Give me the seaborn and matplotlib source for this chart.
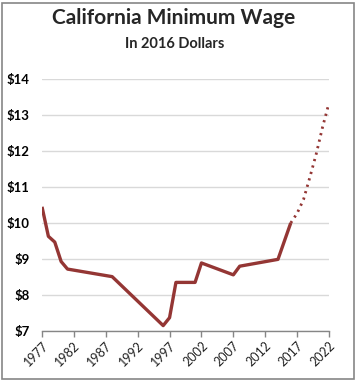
import matplotlib
matplotlib.use("Agg")
import matplotlib.pyplot as plt
import seaborn as sns
import pandas as pd
from matplotlib.patches import Rectangle

# Data
actual_years = [1977, 1978, 1979, 1980, 1981, 1988, 1996, 1997, 1998, 2001, 2002, 2007, 2008, 2014, 2016]
actual_wage = [10.45, 9.63, 9.47, 8.93, 8.72, 8.51, 7.15, 7.37, 8.35, 8.35, 8.89, 8.56, 8.80, 8.99, 10.00]
proj_years = [2016, 2017, 2018, 2019, 2020, 2021, 2022]
proj_wage = [10.00, 10.27, 10.65, 11.27, 11.92, 12.67, 13.33]
x_ticks = [1977, 1982, 1987, 1992, 1997, 2002, 2007, 2012, 2017, 2022]
y_ticks = [7, 8, 9, 10, 11, 12, 13, 14]

sns.set_style("white")
plt.rcParams['font.family'] = ['Lato', 'DejaVu Sans']

df_a = pd.DataFrame({"year": actual_years, "wage": actual_wage})
df_p = pd.DataFrame({"year": proj_years, "wage": proj_wage})

fig = plt.figure(figsize=(3.57, 3.81), dpi=100)
ax = fig.add_axes([42/357, 1-331/381, (329-42)/357, (331-79)/381])

color = "#943634"
sns.lineplot(data=df_a, x="year", y="wage", ax=ax, color=color, lw=2.4, solid_capstyle="butt")
sns.lineplot(data=df_p, x="year", y="wage", ax=ax, color=color, lw=2.0, linestyle=(0, (0.8, 1.6)), dash_capstyle="butt")

ax.set_xlim(1977, 2022)
ax.set_ylim(7, 14)
ax.set_xticks(x_ticks)
ax.set_xticklabels([str(t) for t in x_ticks], rotation=45, ha="right", rotation_mode="anchor", fontsize=9, color="#222222")
ax.set_yticks(y_ticks)
ax.set_yticklabels([f"${t}" for t in y_ticks], fontsize=9.5, fontweight="bold", color="black")
ax.set_xlabel("")
ax.set_ylabel("")
ax.grid(axis="y", color="#d9d9d9", lw=1)
ax.grid(axis="x", visible=False)
for s in ["top", "right", "left"]:
    ax.spines[s].set_visible(False)
ax.spines["bottom"].set_color("#868686")
ax.spines["bottom"].set_linewidth(1)
ax.tick_params(axis="x", bottom=True, length=4, width=1, color="#868686", pad=2)
ax.tick_params(axis="y", left=False, length=0, pad=9)

fig.text(174/357, 1-18.5/381, "California Minimum Wage", ha="center", va="center", fontsize=15, fontweight="bold")
fig.text(174.5/357, 1-44/381, "In 2016 Dollars", ha="center", va="center", fontsize=10.5, fontweight="bold")

fig.patches.append(Rectangle((2/357, 2/381), 352/357, 376/381, transform=fig.transFigure,
                             fill=False, edgecolor="#868686", lw=1.2))

fig.savefig("out.png", dpi=100)
